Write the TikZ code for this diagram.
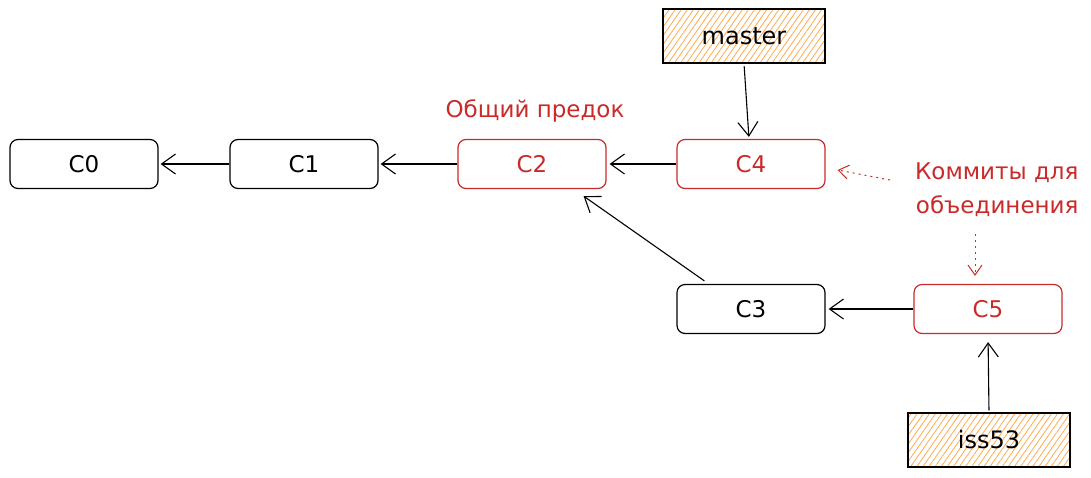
\documentclass[tikz,border=0pt]{standalone}
\usepackage{fontspec}
\setmainfont{DejaVu Sans}
\usetikzlibrary{arrows.meta,patterns.meta}
\definecolor{xred}{RGB}{201,42,42}
\definecolor{hatch}{RGB}{255,169,77}
\tikzset{
  commit/.style={draw, line width=1.2pt, rounded corners=8pt, minimum width=148pt, minimum height=49pt, font=\fontsize{23}{26}\selectfont, inner sep=0pt},
  redcommit/.style={commit, draw=xred, text=xred},
  branch/.style={draw, line width=1.4pt, minimum width=162pt, minimum height=54pt, font=\fontsize{24}{26}\selectfont, inner sep=0pt,
    pattern={Lines[angle=55,distance=5pt,line width=0.8pt]}, pattern color=hatch},
  conn/.style={line width=1.1pt, -{Straight Barb[length=14pt,width=20pt,line width=1.1pt]}},
  note/.style={text=xred, font=\fontsize{23}{34}\selectfont},
  dotconn/.style={xred, line width=1pt, dash pattern=on 2pt off 4pt, -{Straight Barb[length=10pt,width=14pt,line width=1pt]}}
}
\begin{document}
\begin{tikzpicture}[x=1pt,y=-1pt]
\useasboundingbox (0,0) rectangle (1091,477);
\node[commit] (C0) at (84,164) {C0};
\node[commit] (C1) at (304,164) {C1};
\node[redcommit] (C2) at (532,164) {C2};
\node[redcommit] (C4) at (751,164) {C4};
\node[commit] (C3) at (751,309) {C3};
\node[redcommit] (C5) at (988,309) {C5};
\node[branch] (master) at (744,36) {master};
\node[branch] (iss53) at (989,440) {iss53};
\node[note] (anc) at (535,111) {Общий предок};
\node[note, align=right, anchor=north east] (merge) at (1082,159) {Коммиты для\\объединения};
\coordinate (d1) at (890,180);
\coordinate (d2) at (975,234);

\draw[conn, shorten >=2pt] (C1.west) -- (C0.east);
\draw[conn, shorten >=2pt] (C2.west) -- (C1.east);
\draw[conn, shorten >=3pt] (C4.west) -- (C2.east);
\draw[conn, shorten >=3pt] (C5.west) -- (C3.east);
\draw[conn] ([xshift=28pt,yshift=3pt]C3.north west) -- ([xshift=-23pt,yshift=-7pt]C2.south east);
\draw[conn, shorten <=3pt, shorten >=2pt] (master.south) -- ([xshift=-2pt]C4.north);
\draw[conn, shorten <=2pt, shorten >=8pt] (iss53.north) -- (C5.south);
\draw[dotconn] (d1) -- ([xshift=12pt,yshift=-6pt]C4.east);
\draw[dotconn] (d2) -- ([xshift=-13pt,yshift=8pt]C5.north);
\end{tikzpicture}
\end{document}
